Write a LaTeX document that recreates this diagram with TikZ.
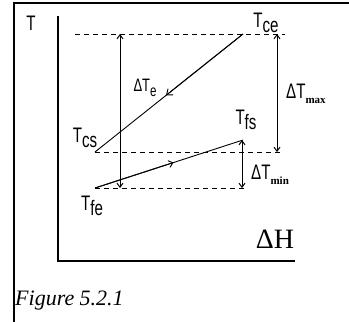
\documentclass[tikz,border=0pt]{standalone}
\usepackage{fontspec}
\setmainfont{Liberation Sans}
\newfontfamily\serifnt{Liberation Serif}
\newfontfamily\narrowfnt[FakeStretch=0.72]{Liberation Sans}
\usetikzlibrary{arrows.meta,calc}
\newcommand{\lowsub}[1]{\raisebox{-5pt}{#1}}
\begin{document}
\begin{tikzpicture}[x=1pt,y=-1pt,
  frame/.style={line width=2pt},
  axis/.style={line width=1.4pt},
  guide/.style={dashed, dash pattern=on 5pt off 4pt, line width=1pt},
  prof/.style={line width=0.9pt},
  dim/.style={line width=1pt, {Straight Barb[length=4pt,width=6pt]}-{Straight Barb[length=4pt,width=6pt]}},
  lbl/.style={inner sep=0pt, font=\narrowfnt\fontsize{21}{21}\selectfont},
  dlbl/.style={inner sep=0pt, font=\narrowfnt\fontsize{21}{21}\selectfont}]
\useasboundingbox (0,0) rectangle (349,322);
% frame (cropped table cell)
\coordinate (fr1) at (13.5,322);
\coordinate (fr2) at (13.5,3);
\coordinate (fr3) at (349,3);
\draw[frame] (fr1) -- (fr2) -- (fr3);
% axes
\coordinate (ytop) at (58,16);
\coordinate (orig) at (58,261);
\coordinate (xend) at (295,261);
\draw[axis] (ytop) -- (orig) -- (xend);
\node[lbl] (tax) at (31,23) {T};
\node[inner sep=0pt, font=\serifnt\fontsize{28}{28}\selectfont] (dh) at (275,239) {ΔH};
% key points
\coordinate (ce) at (243,34);
\coordinate (cs) at (95,152);
\coordinate (fs) at (243,140);
\coordinate (fe) at (95,188);
% dashed guides
\coordinate (g1a) at (75,34);
\coordinate (g1b) at (285,34);
\coordinate (g2b) at (283,152);
\coordinate (g3b) at (245,188);
\draw[guide] (g1a) -- (g1b);
\draw[guide] (cs) -- (g2b);
\draw[guide] (fe) -- (g3b);
% profiles
\draw[prof] (cs) -- (ce);
\draw[prof] (fe) -- (fs);
\draw[prof, -{Straight Barb[length=5pt,width=8pt]}] (ce) -- ($(ce)!0.52!(cs)$);
\draw[prof, -{Straight Barb[length=4pt,width=7pt]}] (fe) -- ($(fe)!0.53!(fs)$);
% dimension arrows
\coordinate (ea) at (120,34);
\coordinate (eb) at (120,188);
\coordinate (ma) at (277,34);
\coordinate (mb) at (277,152);
\coordinate (na) at (242,140);
\coordinate (nb) at (242,188);
\draw[dim] (eb) -- (ea);
\draw[dim] (mb) -- (ma);
\draw[dim] (na) -- (nb);
% labels
\node[lbl] (lce) at (266,23) {T\lowsub{ce}};
\node[lbl] (lcs) at (85,138) {T\lowsub{cs}};
\node[lbl] (lfs) at (246,120) {T\lowsub{fs}};
\node[lbl] (lfe) at (92,206) {T\lowsub{fe}};
\node[dlbl, font=\narrowfnt\fontsize{18}{18}\selectfont] (lde) at (145,88) {ΔT\lowsub{\fontsize{16}{16}\selectfont e}};
\node[dlbl, anchor=west] (ldmax) at (286,94) {ΔT\raisebox{-5pt}{\serifnt\bfseries\fontsize{11}{11}\selectfont max}};
\node[dlbl, anchor=west] (ldmin) at (251,175) {ΔT\raisebox{-5pt}{\serifnt\bfseries\fontsize{11}{11}\selectfont min}};
\node[inner sep=0pt, anchor=west, font=\serifnt\itshape\fontsize{22}{22}\selectfont] (cap) at (15,301) {Figure 5.2.1};
\end{tikzpicture}
\end{document}
